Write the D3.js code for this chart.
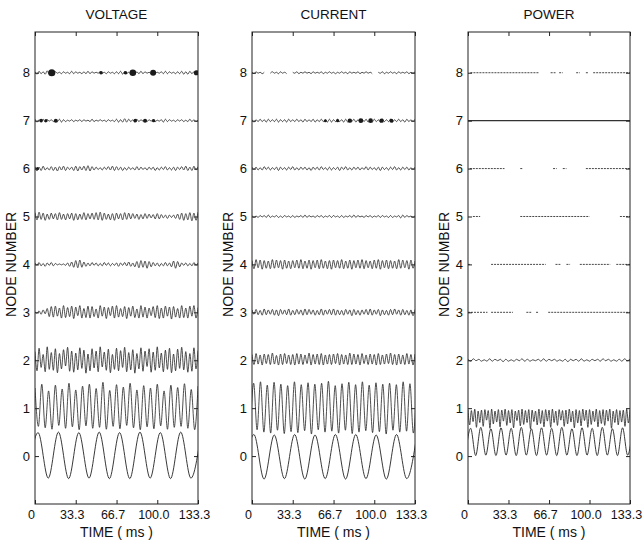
<!DOCTYPE html>
<html>
<head>
<meta charset="utf-8">
<script src="https://cdn.jsdelivr.net/npm/d3@7"></script>
<style>
body { margin: 0; background: #fff; }
text { font-family: "Liberation Sans", Arial, sans-serif; fill: #111; }
</style>
</head>
<body>
<svg width="644" height="544"></svg>
<script>
const T_END = 133.3;
const nodeTicks = [0, 1, 2, 3, 4, 5, 6, 7, 8];
const timeTicks = [0, 33.3, 66.7, 100, 133.3];
const timeLabels = ["0", "33.3", "66.7", "100.0", "133.3"];
const titles = ["VOLTAGE", "CURRENT", "POWER"];

// all trace values are offsets from the node level, in hundredths
// VOLTAGE
const volt0 = [-47,49,-46,50,-47,49,-46,50,-47,49,-47,50,-46,49,-47,50,-46,49];
const volt1 = [42,-38,50,-41,36,-44,48,-36,40,-42,52,-39,38,-45,46,-37,50,-42,41,-40,54,-44,37,-38,49,-43,44,-36,52,-41,38,-45,47,-39,42,-43,50,-37,36,-44,48,-40,43,-38,51,-42,39,-45,46];
const volt2 = [18,-22,25,-15,12,-24,28,-19,16,-21,24,-26,14,-18,22,-12,27,-23,19,-25,15,-20,26,-17,21,-27,13,-22,24,-16,19,-24,28,-14,17,-21,23,-26,12,-19,25,-22,20,-15,27,-24,16,-20,22,-27,14,-18,26,-23,19,-13,24,-25,17,-21,28,-16,15,-24,21,-19,25,-26,13,-22,23,-17,27,-20,18,-25,14,-23,26,-18,20];
const volt3 = [1,-2,3,-4,5,-3,8,-9,12,-10,13,-8,9,-12,14,-11,10,-9,13,-13,11,-7,14,-12,8,-11,13,-12,12,-9,7,-12,14,-8,11,-13,10,-7,13,-12,14,-10,8,-9,12,-13,10,-8,13,-11,7,-12,14,-10,11,-12,9,-7,12,-11,14,-13,9,-12,13,-8,11,-14,12,-10,8,-12,14,-11,9,-12,13,-8,14,-12,10];
const volt4 = [3,-2,4,-3,2,-4,3,-2,4,-3,2,-1,1,-1,1,-2,3,-4,5,-6,8,-7,9,-6,5,-4,3,-3,4,-2,3,-3,2,-3,4,-2,3,-3,2,-2,3,-4,3,-2,4,-3,5,-4,3,-5,6,-7,8,-6,7,-8,6,-5,4,-3,3,-4,2,-3,4,-3,3,-5,7,-8,6,-5,3,-2,3,-3,2,-3,4,-2,3];
const volt5 = [8,-7,9,-6,7,-8,5,-6,7,-5,6,-7,8,-6,5,-7,6,-5,7,-8,6,-7,5,-6,8,-7,6,-5,7,-6,8,-7,9,-8,7,-6,5,-7,6,-8,7,-5,6,-7,8,-6,7,-5,6,-4,5,-6,4,-5,6,-4,5,-3,4,-5,6,-5,4,-3,3,-4,3,-2,3,-4,5,-6,7,-8,6,-7,8,-9,7,-8,9];
const volt6 = [4,-5,3,-4,5,-3,2,-3,4,-4,3,-5,4,-3,5,-4,3,-2,3,-4,5,-5,4,-3,5,-4,6,-5,4,-3,3,-2,2,-3,3,-2,4,-3,5,-4,4,-3,3,-4,2,-3,3,-2,2,-3,4,-3,3,-2,2,-3,3,-2,3,-4,2,-3,3,-2,4,-3,2,-3,3,-4,3,-2,4,-3,5,-4,3,-4,5,-3,4];
const volt7 = [3,-3,2,-2,3,-3,2,-1,2,-2,1,-2,3,-3,2,-2,1,-1,2,-2,1,-1,2,-2,2,-1,1,-2,3,-2,1,-1,2,-1,1,-2,2,-1,1,-2,3,-3,2,-3,4,-3,3,-2,2,-3,3,-2,2,-1,1,-2,2,-1,2,-2,1,-1,2,-3,3,-2,2,-1,1,-2,2,-1,2,-2,1,-2,3,-2,2,-2,1];
const volt8 = [2,-3,3,-2,2,-3,4,-3,2,-2,2,-1,1,-2,2,-1,1,-2,3,-2,2,-1,1,-2,2,-2,3,-2,2,-1,1,-1,2,-1,1,-2,2,-1,1,-2,2,-2,3,-3,2,-2,1,-2,3,-3,2,-2,3,-2,2,-1,1,-2,2,-1,1,-1,2,-2,3,-2,2,-1,1,-2,2,-2,3,-3,2,-3,3,-2,2,-3,3];
// blobs in the scan: [node, time ms, radius]
const voltBlobs = [[8,13.7,3.6],[8,54,1.8],[8,74,1.8],[8,80,3.3],[8,96.6,3],[8,132,2.6],[7,5,1.8],[7,9,1.6],[7,17,2],[7,82,1.8],[7,90,2],[7,97,1.7],[6,2,1.5]];

// CURRENT
const curr0 = [-47,45,-48,44,-47,45,-48,44,-47,45,-48,45,-47,44,-48,45,-47,45];
const curr1 = [-48,52,-45,55,-50,48,-52,54,-46,50,-53,47,-49,55,-51,49,-47,53,-54,50,-45,52,-50,56,-48,47,-52,51,-46,54,-53,49,-50,55,-47,48,-51,53,-49,50,-54,52,-46,49,-50,55,-48,51,-52,50];
const curr2 = [12,-9,14,-8,11,-10,13,-7,12,-9,15,-8,10,-10,13,-9,14,-7,11,-9,12,-10,14,-8,13,-9,11,-7,15,-10,12,-8,13,-9,14,-10,11,-8,12,-9,13,-7,14,-10,12,-8,11,-9,15,-9,13,-8,12,-10,14,-7,11,-9,13,-8,12,-10,14,-9,11,-8,13,-7,15,-9,12,-10,13,-8,11,-9,14,-8,12,-10,13];
const curr3 = [5,-4,6,-5,4,-6,7,-5,5,-4,6,-6,5,-7,6,-4,5,-5,7,-6,4,-5,6,-4,5,-6,7,-5,6,-4,5,-6,4,-5,7,-6,5,-4,6,-5,7,-6,5,-5,4,-6,6,-4,5,-7,6,-5,4,-6,5,-4,6,-5,7,-6,5,-4,6,-7,5,-5,4,-6,6,-5,7,-4,5,-6,6,-5,4,-6,5,-7,6];
const curr4 = [8,-9,10,-7,9,-10,8,-8,7,-9,10,-8,9,-7,8,-10,9,-8,7,-9,8,-7,9,-8,10,-9,7,-8,9,-10,8,-7,9,-9,10,-8,7,-9,8,-10,9,-7,8,-8,10,-9,7,-8,9,-10,8,-7,9,-8,10,-9,8,-7,7,-9,9,-8,10,-10,8,-7,9,-9,8,-8,7,-9,10,-8,9,-7,8,-10,9,-8,7];
const curr5 = [2,-2,1,-2,2,-1,2,-2,3,-2,1,-1,2,-2,1,-2,2,-1,1,-2,2,-2,1,-1,2,-2,3,-2,2,-1,1,-2,2,-1,2,-2,1,-1,2,-2,2,-1,1,-2,2,-2,1,-1,2,-2,3,-2,2,-1,1,-2,2,-1,2,-2,1,-1,2,-2,2,-1,1,-2,2,-2,1,-1,2,-3,3,-2,2,-1,1,-2,2];
const curr6 = [3,-2,3,-3,2,-3,4,-2,3,-3,2,-2,3,-4,3,-2,2,-3,3,-2,4,-3,2,-3,3,-2,3,-3,2,-4,3,-2,3,-3,4,-2,2,-3,3,-3,2,-2,3,-4,3,-2,4,-3,2,-3,3,-2,3,-3,2,-2,4,-3,3,-2,2,-3,3,-4,3,-2,2,-3,3,-2,4,-3,2,-3,3,-2,3,-3,2,-2,3];
const curr7 = [2,-3,2,-2,3,-2,2,-3,3,-2,2,-2,3,-3,2,-2,2,-3,3,-2,2,-2,3,-2,2,-3,3,-2,2,-2,3,-3,2,-2,3,-2,2,-3,3,-3,2,-2,3,-2,2,-3,3,-3,2,-2,3,-3,2,-2,3,-2,3,-3,2,-3,3,-2,2,-3,3,-2,2,-2,3,-3,2,-2,3,-2,2,-3,3,-2,2,-2,3];
const curr8 = [1,-2,2,-1,1,-2,1,null,null,-1,2,-1,1,-2,2,-1,1,-2,null,null,1,-1,2,-2,1,-1,2,-1,1,-2,2,-1,1,-1,2,-2,1,-1,2,-1,1,-2,1,-1,2,-1,1,-2,2,-1,1,-1,2,-2,1,-1,2,-1,1,-2,null,null,1,-1,2,-2,1,-1,2,-1,1,-2,2,-1,1,-1,2,-2,1,-1,2];
const currBlobs = [[7,60,1.5],[7,70,1.6],[7,80,2.2],[7,89,2.4],[7,97,2.3],[7,106,2.2],[7,114,2]];

// POWER
const pow0 = [2,58,1,60,2,57,1,59,2,58,1,60,2,57,1,59,2,58,1,60,2,57,1,59,2,58,1,60,2,57,1,59,2,58];
const pow1 = [-3,-35,-5,-28,-2,-40,-6,-30,-4,-38,-3,-25,-5,-42,-2,-33,-6,-29,-3,-39,-4,-27,-2,-36,-5,-31,-3,-41,-6,-26,-4,-37,-2,-34,-5,-30,-3,-43,-4,-28,-6,-35,-2,-32,-5,-39,-3,-27,-4,-40,-2,-30,-6,-36,-3,-25,-5,-38,-4,-33,-2,-29,-6,-41,-3,-31,-5,-37,-2,-26,-4,-40,-3,-34,-6,-28,-2,-39,-5,-32,-3,-36,-4,-27,-2,-42,-6,-30,-3,-35,-5,-29,-4,-38,-2,-31,-3];
const pow2 = [2,-2,3,-1,2,-2,1,-2,3,-2,2,-1,2,-3,2,-2,1,-2,2,-1,3,-2,2,-2,1,-1,2,-2,3,-2,2,-1,2,-2,1,-2,2,-3,2,-1,2,-2,3,-2,1,-2,2,-1,2,-2,3,-1,2,-2,1,-2,2,-2,3,-1,2];
// dotted node lines in the power panel: [node, [[from ms, to ms], ...]]
const powSegments = [
  [8, [[2,58],[68,72],[75,78],[89,92],[97,99],[103,133.3]]],
  [7, [[0,133.3]]],
  [6, [[1.5,30],[43,45],[70,73],[78,81],[97,133.3]]],
  [5, [[4,10],[43,100],[125,133.3]]],
  [4, [[0,1.5],[19,64],[72,76],[81,84],[92,117],[122,133.3]]],
  [3, [[0,16],[19,37],[48,52],[56,58],[66,133.3]]]
];

const panels = [
  { traces: [
      {node:0, t0:-5.83, dt:8.333, d:volt0, w:0.9},
      {node:1, t0:0, dt:2.778, d:volt1},
      {node:2, d:volt2}, {node:3, d:volt3}, {node:4, d:volt4},
      {node:5, d:volt5}, {node:6, d:volt6}, {node:7, d:volt7}, {node:8, d:volt8}],
    blobs: voltBlobs, segments: [] },
  { traces: [
      {node:0, t0:-6.8, dt:8.333, d:curr0, w:0.9},
      {node:1, t0:-1.4, dt:2.778, d:curr1},
      {node:2, d:curr2}, {node:3, d:curr3}, {node:4, d:curr4},
      {node:5, d:curr5}, {node:6, d:curr6}, {node:7, d:curr7}, {node:8, d:curr8}],
    blobs: currBlobs, segments: [] },
  { traces: [
      {node:0, t0:-2.0, dt:4.1667, d:pow0, w:0.9},
      {node:1, t0:0, dt:1.389, d:pow1},
      {node:2, d:pow2}],
    blobs: [], segments: powSegments }
];

/////////////////////////////////////////////// layout
const svg = d3.select("svg");
const plotTop = 32, plotBottom = 504;
const boxes = [[35, 198], [252, 415], [468, 630]];
const y = d3.scaleLinear().domain([-1, 8.85]).range([plotBottom, plotTop]);

panels.forEach((p, k) => {
    const [L, R] = boxes[k];
    const x = d3.scaleLinear().domain([0, T_END]).range([L, R]);
    const g = svg.append("g");

    g.append("clipPath").attr("id", "clip" + k)
        .append("rect").attr("x", L).attr("y", plotTop).attr("width", R - L).attr("height", plotBottom - plotTop);
    const plot = g.append("g").attr("clip-path", `url(#clip${k})`);

    const line = d3.line()
        .defined(d => d.v != null)
        .x(d => x(d.t))
        .y(d => y(d.v))
        .curve(d3.curveMonotoneX);

    p.traces.forEach(tr => {
        const dt = tr.dt || T_END / (tr.d.length - 1);
        const t0 = tr.t0 || 0;
        const pts = tr.d.map((d, i) => ({ t: t0 + i * dt, v: d == null ? null : tr.node + d / 100 }));
        plot.append("path")
            .datum(pts)
            .attr("d", line)
            .attr("fill", "none")
            .attr("stroke", "#222")
            .attr("stroke-width", tr.w || 0.8);
    });

    p.segments.forEach(([node, segs]) => {
        segs.forEach(([a, b]) => {
            plot.append("line")
                .attr("x1", x(a)).attr("x2", x(b))
                .attr("y1", y(node)).attr("y2", y(node))
                .attr("stroke", "#333")
                .attr("stroke-width", node === 7 ? 1.1 : 0.9)
                .attr("stroke-dasharray", node === 7 ? null : "2,1");
        });
    });

    plot.selectAll("circle.blob")
        .data(p.blobs)
        .enter().append("circle")
        .attr("class", "blob")
        .attr("cx", d => x(d[1]))
        .attr("cy", d => y(d[0]))
        .attr("r", d => d[2])
        .attr("fill", "#1a1a1a");

    // frame
    g.append("rect")
        .attr("x", L).attr("y", plotTop).attr("width", R - L).attr("height", plotBottom - plotTop)
        .attr("fill", "none").attr("stroke", "#222").attr("stroke-width", 1);

    // axes (inward ticks)
    const styleAxis = sel => {
        sel.select(".domain").remove();
        sel.selectAll("line").attr("stroke", "#222");
        sel.selectAll("text").attr("font-size", 13).attr("font-family", "Liberation Sans, Arial, sans-serif").attr("fill", "#111");
    };
    g.append("g").attr("transform", `translate(0,${plotBottom})`)
        .call(d3.axisBottom(x).tickValues(timeTicks).tickFormat((d, i) => timeLabels[i]).tickSize(-4).tickPadding(6))
        .call(styleAxis)
        .call(a => a.selectAll("text").attr("dx", -4).attr("font-size", 12.5));
    g.append("g").attr("transform", `translate(0,${plotTop})`)
        .call(d3.axisTop(x).tickValues(timeTicks).tickFormat("").tickSize(-4))
        .call(styleAxis);
    g.append("g").attr("transform", `translate(${L},0)`)
        .call(d3.axisLeft(y).tickValues(nodeTicks).tickSize(-4).tickPadding(5))
        .call(styleAxis);
    g.append("g").attr("transform", `translate(${R},0)`)
        .call(d3.axisRight(y).tickValues(nodeTicks).tickFormat("").tickSize(-4))
        .call(styleAxis);

    // labels
    g.append("text")
        .attr("x", (L + R) / 2).attr("y", 19)
        .attr("text-anchor", "middle").attr("font-size", 13.5)
        .text(titles[k]);
    g.append("text")
        .attr("x", (L + R) / 2).attr("y", 537)
        .attr("text-anchor", "middle").attr("font-size", 14)
        .text("TIME ( ms )");
    g.append("text")
        .attr("transform", `translate(${L - 24},${y(4)}) rotate(-90)`)
        .attr("text-anchor", "middle").attr("dy", "0.35em").attr("font-size", 14)
        .text("NODE NUMBER");
});
</script>
</body>
</html>
